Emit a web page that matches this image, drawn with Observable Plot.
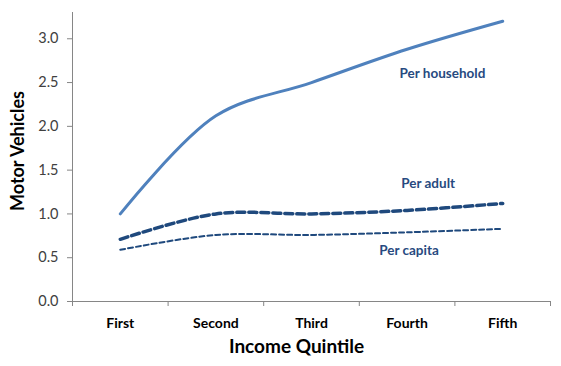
<!DOCTYPE html>
<html>
<head>
<meta charset="utf-8">
<script src="https://cdn.jsdelivr.net/npm/d3@7"></script>
<script src="https://cdn.jsdelivr.net/npm/@observablehq/plot@0.6"></script>
<style>
  body { margin: 0; background: #fff; }
  #chart svg { font-family: Lato, "Open Sans", sans-serif; }
</style>
</head>
<body>
<div id="chart"></div>
<script>
const quintiles = ["First", "Second", "Third", "Fourth", "Fifth"];
const perHousehold = [1.0, 2.12, 2.5, 2.88, 3.2];
const perAdult = [0.71, 1.0, 1.0, 1.04, 1.12];
const perCapita = [0.59, 0.76, 0.76, 0.79, 0.83];
const yTicks = [0, 0.5, 1.0, 1.5, 2.0, 2.5, 3.0];
const seriesLabels = [
  {name: "Per household", x: 3.87, y: 2.6},
  {name: "Per adult", x: 3.72, y: 1.35},
  {name: "Per capita", x: 3.52, y: 0.58}
];

const rows = (vals) => vals.map((v, i) => ({x: i + 0.5, y: v, q: quintiles[i]}));

const chart = Plot.plot({
  width: 561,
  height: 366,
  marginLeft: 72,
  marginRight: 11,
  marginTop: 12,
  marginBottom: 65,
  x: {domain: [0, 5]},
  y: {domain: [0, 3.3]},
  marks: [
    Plot.ruleX([0], {stroke: "#868686", strokeWidth: 1}),
    Plot.ruleY([0], {stroke: "#868686", strokeWidth: 1}),
    Plot.axisY({ticks: yTicks, tickFormat: d3.format(".1f"), tickSize: 5, tickPadding: 9, stroke: "#868686", fontSize: 14.5, color: "#404040", label: null}),
    Plot.axisX({ticks: [0, 1, 2, 3, 4, 5], tickFormat: () => "", tickSize: 5, stroke: "#868686", label: null}),
    Plot.axisX({ticks: quintiles.map((q, i) => i + 0.5), tickFormat: (d) => quintiles[Math.round(d - 0.5)], tickSize: 0, tickPadding: 17, fontSize: 14, fontWeight: "bold", color: "#000", label: null}),
    Plot.text(["Motor Vehicles"], {frameAnchor: "left", textAnchor: "middle", dx: -54, dy: -6, rotate: -90, fontSize: 18, fontWeight: "bold", fill: "#000"}),
    Plot.text(["Income Quintile"], {frameAnchor: "bottom", dx: -15, dy: 51, fontSize: 19, fontWeight: "bold", fill: "#000"}),
    Plot.line(rows(perCapita), {x: "x", y: "y", curve: "catmull-rom", stroke: "#1F497D", strokeWidth: 2, strokeDasharray: "5,3"}),
    Plot.line(rows(perAdult), {x: "x", y: "y", curve: "catmull-rom", stroke: "#1F497D", strokeWidth: 3.5, strokeDasharray: "8,4"}),
    Plot.line(rows(perHousehold), {x: "x", y: "y", curve: "catmull-rom", stroke: "#4F81BD", strokeWidth: 3}),
    Plot.text(seriesLabels, {x: "x", y: "y", text: "name", fontSize: 13.5, fontWeight: "bold", fill: "#274A80"})
  ]
});
document.getElementById("chart").appendChild(chart);
</script>
</body>
</html>
